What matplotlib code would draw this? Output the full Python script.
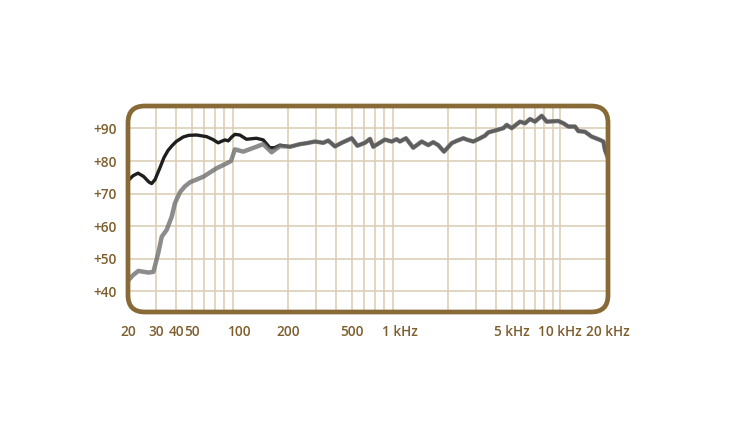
import matplotlib
matplotlib.use("Agg")
import matplotlib.pyplot as plt
from matplotlib.patches import FancyBboxPatch

# Low-frequency part of the black curve (Hz, dB)
black_freq = [20, 21.5, 23.1, 25, 27, 28.1, 29.5, 31.7, 33.5, 35.5, 37.5, 40, 44.3, 48,
              53.7, 62, 68, 73.3, 77, 80.7, 84.7, 89, 93.2, 100, 110, 127, 140, 154,
              165, 178, 206]
black_db = [74.0, 75.5, 76.3, 75.3, 73.6, 73.1, 74.3, 78.0, 81.0, 83.2, 84.6, 86.0, 87.4,
            87.9, 88.0, 87.5, 86.6, 85.6, 86.1, 86.5, 86.2, 87.4, 88.2, 88.0, 86.7, 87.0,
            86.5, 84.1, 84.1, 84.9, 84.4]

# Low-frequency part of the grey curve (Hz, dB)
grey_freq = [20, 21.5, 23.2, 26.8, 28.8, 30.9, 32.5, 34.9, 37.5, 39.3, 42.3, 45.5, 48.8,
             59.1, 71.6, 82.8, 88, 93.2, 105, 127, 140, 158, 165, 178, 206]
grey_db = [43.3, 45.0, 46.3, 45.8, 46.0, 51.7, 56.8, 58.9, 62.9, 67.1, 70.5, 72.3, 73.5,
           75.2, 77.8, 79.3, 80.0, 83.6, 82.9, 84.4, 85.2, 82.7, 83.4, 84.6, 84.4]

# Shared part above ~200 Hz (both curves coincide)
shared_freq = [237.7, 262, 295, 332, 357, 393, 433, 500, 543, 605, 651, 682, 807, 889,
               955, 1000, 1092, 1213, 1370, 1506, 1617, 1738, 1888, 2110, 2266, 2494,
               2618, 2878, 3170, 3406, 3572, 4027, 4434, 4654, 5000, 5636, 6058, 6508,
               6993, 7705, 8280, 9778, 10512, 11297, 12441, 13045, 14357, 15812, 17825,
               18700, 19150, 20000]
shared_db = [85.2, 85.5, 86.0, 85.6, 86.3, 84.5, 85.6, 87.0, 84.7, 85.6, 86.8, 84.4,
             86.6, 86.0, 86.7, 86.0, 87.0, 84.1, 86.0, 84.9, 85.8, 84.9, 82.9, 85.5,
             86.2, 87.0, 86.6, 86.0, 87.0, 87.8, 88.8, 89.5, 90.1, 91.1, 90.1, 92.1,
             91.6, 92.9, 92.1, 93.9, 92.1, 92.3, 91.6, 90.6, 90.6, 89.2, 89.0, 87.5,
             86.5, 86.0, 83.4, 80.9]

y_ticks = [40, 50, 60, 70, 80, 90]
y_labels = ["+40", "+50", "+60", "+70", "+80", "+90"]
x_ticks = [20, 30, 40, 50, 100, 200, 500, 1000, 5000, 10000, 20000]
x_labels = ["20", "30", "40", "50", "100", "200", "500", "1 kHz", "5 kHz", "10 kHz", "20 kHz"]

brown = "#886a36"
label_col = "#7d5e2e"
grid_col = "#dccfb8"

fig = plt.figure(figsize=(7.5, 4.22), dpi=100)
ax = fig.add_axes([128/750, 1-312/422, 480/750, 206/422])
ax.set_xscale("log")
ax.set_xlim(20, 20000)
ax.set_ylim(33.7, 96.9)

# grid
vgrid = [f * m for m in (10, 100, 1000) for f in range(2, 10)] + [10000]
vgrid = [v for v in vgrid if 20 < v <= 10000]
for v in vgrid:
    ax.axvline(v, color=grid_col, lw=1.2, zorder=1)
for yv in y_ticks:
    ax.axhline(yv, color=grid_col, lw=1.2, zorder=1)

bf = black_freq + shared_freq
bd = black_db + shared_db
gf = grey_freq + shared_freq
gd = grey_db + shared_db
ax.plot(bf, bd, color="#1e1e1e", lw=2.4, zorder=3, solid_capstyle="round", solid_joinstyle="round")
ax.plot(gf, gd, color="#6f6f6f", alpha=0.8, lw=3.2, zorder=4, solid_capstyle="round", solid_joinstyle="round")

for s in ax.spines.values():
    s.set_visible(False)

frame = FancyBboxPatch((0, 0), 1, 1, boxstyle="round,pad=0,rounding_size=0.035",
                       transform=ax.transAxes, fill=False, edgecolor=brown, lw=3.4,
                       zorder=5, clip_on=False, mutation_aspect=480/206)
ax.add_patch(frame)

ax.set_yticks(y_ticks)
ax.set_yticklabels(y_labels)
ax.set_xticks(x_ticks)
ax.set_xticklabels(x_labels)
ax.set_xticks([], minor=True)
ax.tick_params(length=0, colors=label_col, labelsize=9.8)
ax.tick_params(axis="y", pad=8)
ax.tick_params(axis="x", pad=9)
for t in ax.get_xticklabels() + ax.get_yticklabels():
    t.set_fontfamily("Open Sans")
    t.set_fontweight("semibold")
    t.set_color(label_col)

fig.savefig("out.png", dpi=100)
